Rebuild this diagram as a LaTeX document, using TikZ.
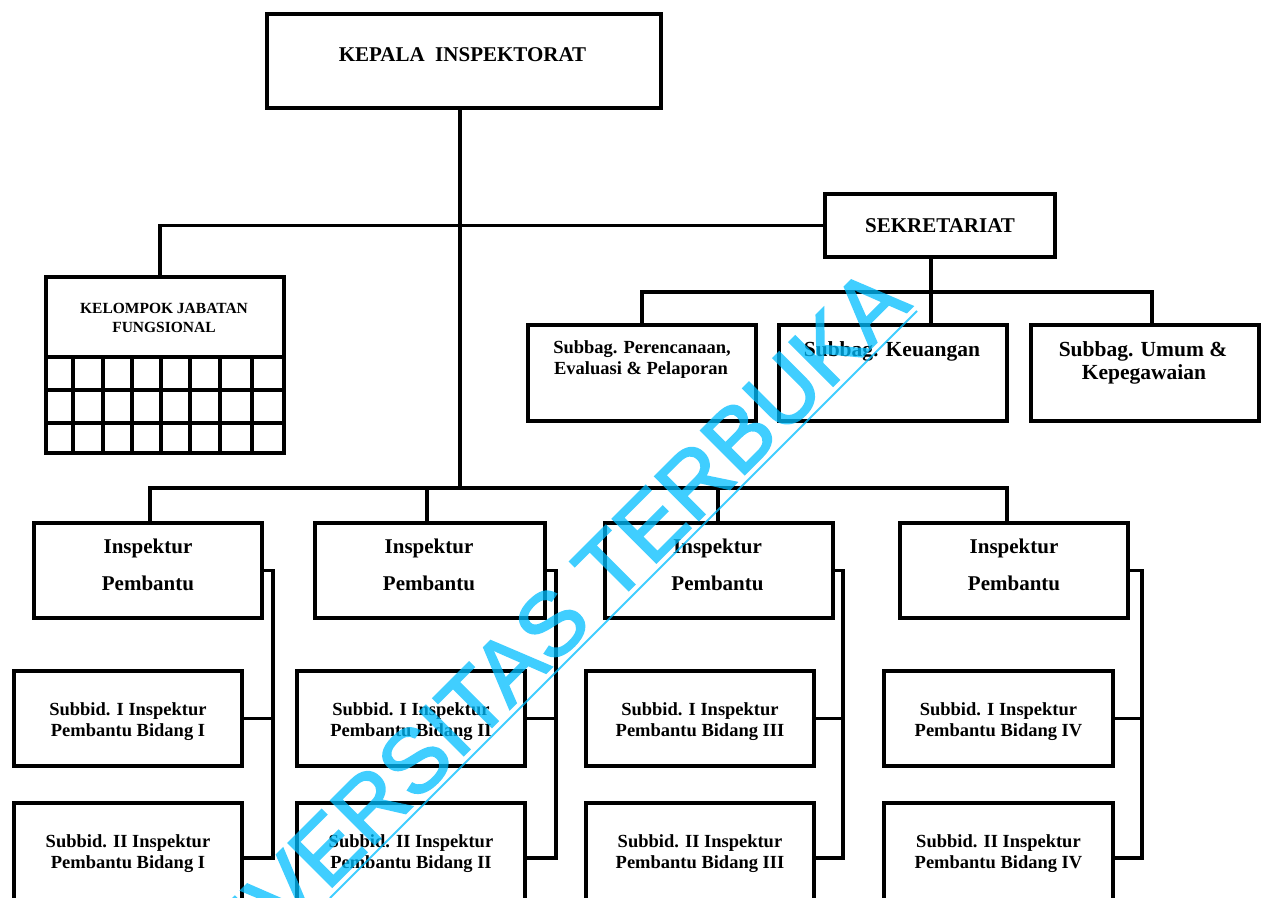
\documentclass[tikz,border=0pt]{standalone}
\usepackage{fontspec}
\setmainfont{Liberation Serif}
\newfontfamily\wmfont[FakeBold=2]{Liberation Sans}
\begin{document}
\begin{tikzpicture}[x=1pt,y=-1pt,
  box/.style={draw=black, line width=3.5pt, fill=white, rectangle, inner sep=0pt, outer sep=0pt},
  conn/.style={draw=black, line width=3.5pt, line join=miter},
  txtA/.style={anchor=base, inner sep=0pt, font=\bfseries\fontsize{21}{25}\selectfont},
  txtB/.style={anchor=base, inner sep=0pt, font=\bfseries\fontsize{18.5}{22}\selectfont},
  txtC/.style={anchor=base, inner sep=0pt, font=\bfseries\fontsize{15.5}{18}\selectfont},
  txtD/.style={anchor=base, inner sep=0pt, font=\bfseries\fontsize{21.5}{25}\selectfont},
  grid/.style={draw=black, line width=3.5pt},
  wm/.style={color={rgb,255:red,0;green,190;blue,255}},
]
\useasboundingbox (0,0) rectangle (1268,897);
\clip (0,0) rectangle (1268,897);
\fill[white] (0,0) rectangle (1268,897);

% junction coordinates
\coordinate (busL) at (160,225.5);
\coordinate (busI) at (460,488);
\coordinate (busS) at (931,292);

% boxes
\node[box, minimum width=394pt, minimum height=94pt] (kepala) at (464,61) {};
\node[box, minimum width=230pt, minimum height=63pt] (sek) at (940,225.5) {};
\node[box, minimum width=238pt, minimum height=176pt] (kel) at (165,365) {};
\node[box, minimum width=228pt, minimum height=96pt] (per) at (642,373) {};
\node[box, minimum width=228pt, minimum height=96pt] (keu) at (893,373) {};
\node[box, minimum width=228pt, minimum height=96pt] (umu) at (1145,373) {};
\node[box, minimum width=228pt, minimum height=95pt] (ipA) at (148,570.5) {};
\node[box, minimum width=230pt, minimum height=95pt] (ipB) at (430,570.5) {};
\node[box, minimum width=228pt, minimum height=95pt] (ipC) at (719,570.5) {};
\node[box, minimum width=228pt, minimum height=95pt] (ipD) at (1014,570.5) {};
\node[box, minimum width=228pt, minimum height=95pt] (sA1) at (128,718.5) {};
\node[box, minimum width=228pt, minimum height=95pt] (sB1) at (411,718.5) {};
\node[box, minimum width=228pt, minimum height=95pt] (sC1) at (700,718.5) {};
\node[box, minimum width=229pt, minimum height=95pt] (sD1) at (998.5,718.5) {};
\node[box, minimum width=228pt, minimum height=110pt] (sA2) at (128,858) {};
\node[box, minimum width=228pt, minimum height=110pt] (sB2) at (411,858) {};
\node[box, minimum width=228pt, minimum height=110pt] (sC2) at (700,858) {};
\node[box, minimum width=229pt, minimum height=110pt] (sD2) at (998.5,858) {};

% grid in Kelompok box
\draw[grid] (kel.west |- 0,357) -- (kel.east |- 0,357);
\draw[grid] (kel.west |- 0,390) -- (kel.east |- 0,390);
\draw[grid] (kel.west |- 0,423) -- (kel.east |- 0,423);
\foreach \gx in {73,103,132,161,190,220,252}{
  \draw[grid] (\gx,357) -- (kel.south -| \gx,0);
}

% main connectors
\draw[conn] (kepala.south -| busI) -- (busI);
\draw[conn] (sek.west) -- (busL) -- (kel.north -| busL);
\draw[conn] (sek.south -| busS) -- (busS);
\draw[conn] (per.north) -- (per.north |- busS) -- (1152,292) -- (umu.north -| 1152,0);
\draw[conn] (busS) -- (keu.north -| busS);
\draw[conn] (ipA.north -| 150,0) -- (150,488) -- (1007,488) -- (ipD.north -| 1007,0);
\draw[conn] (427,488) -- (ipB.north -| 427,0);
\draw[conn] (718,488) -- (ipC.north -| 718,0);

% side connectors
\coordinate (vA) at (273,0);
\coordinate (vB) at (556,0);
\coordinate (vC) at (843,0);
\coordinate (vD) at (1142,0);
\draw[conn] (ipA.east) -- (vA |- ipA.east) -- (vA |- sA2.east) -- (sA2.east);
\draw[conn] (sA1.east) -- (vA |- sA1.east);
\draw[conn] (ipB.east) -- (vB |- ipB.east) -- (vB |- sB2.east) -- (sB2.east);
\draw[conn] (sB1.east) -- (vB |- sB1.east);
\draw[conn] (ipC.east) -- (vC |- ipC.east) -- (vC |- sC2.east) -- (sC2.east);
\draw[conn] (sC1.east) -- (vC |- sC1.east);
\draw[conn] (ipD.east) -- (vD |- ipD.east) -- (vD |- sD2.east) -- (sD2.east);
\draw[conn] (sD1.east) -- (vD |- sD1.east);

% texts
\node[txtA] (t-kep) at (462.5,61) {KEPALA\ \ INSPEKTORAT};
\node[txtA] (t-sek) at (940,232) {SEKRETARIAT};
\node[txtC] (t-kel1) at (164,313) {KELOMPOK JABATAN};
\node[txtC] (t-kel2) at (164,332) {FUNGSIONAL};
\node[txtB] (t-per1) at (642,353) {Subbag. Perencanaan,};
\node[txtB] (t-per2) at (641,374) {Evaluasi \& Pelaporan};
\node[txtD] (t-keu) at (892,356) {Subbag. Keuangan};
\node[txtD] (t-umu1) at (1143,356) {Subbag. Umum \&};
\node[txtD] (t-umu2) at (1144,379) {Kepegawaian};
\foreach \n/\cx in {A/148,B/429,C/717.5,D/1014}{
  \node[txtA] (t-ip\n1) at (\cx,553) {Inspektur};
  \node[txtA] (t-ip\n2) at (\cx,590) {Pembantu};
}
\foreach \n/\cx/\r in {A/128/I,B/411/II,C/700/III,D/998.5/IV}{
  \node[txtB] (t-s\n11) at (\cx,715) {Subbid. I Inspektur};
  \node[txtB] (t-s\n12) at (\cx,736) {Pembantu Bidang \r};
  \node[txtB] (t-s\n21) at (\cx,847) {Subbid. II Inspektur};
  \node[txtB] (t-s\n22) at (\cx,868) {Pembantu Bidang \r};
}

% watermark
\begin{scope}[transparency group, opacity=0.75]
\node[wm, rotate=45, anchor=base east, inner sep=0pt, font=\wmfont\fontsize{90}{90}\selectfont] (wmtext) at (913,306) {UNIVERSITAS TERBUKA};
\draw[wm, line width=1.8pt] (330,898) -- (917,311);
\end{scope}
\end{tikzpicture}
\end{document}
